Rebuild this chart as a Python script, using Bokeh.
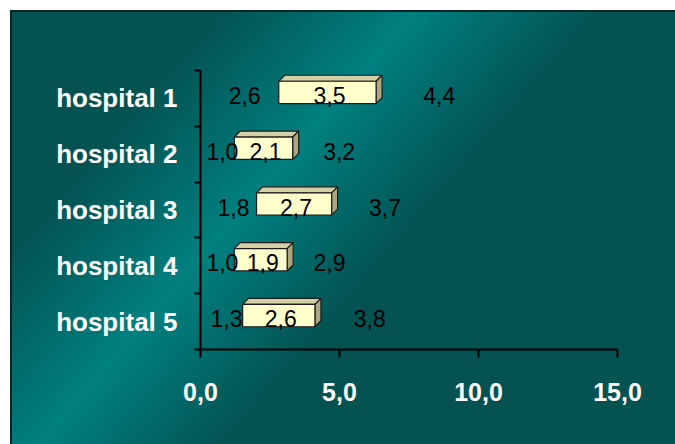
from bokeh.plotting import figure
from bokeh.models import Range1d, FixedTicker, ColumnDataSource
from bokeh.embed import file_html
from bokeh.resources import INLINE
from bokeh.core.properties import value

# Data: each hospital has a lower part, a visible middle span and an upper part (stacked)
hospitals = ["hospital 1", "hospital 2", "hospital 3", "hospital 4", "hospital 5"]
low = [2.6, 1.0, 1.8, 1.0, 1.3]
span = [3.5, 2.1, 2.7, 1.9, 2.6]
upper = [4.4, 3.2, 3.7, 2.9, 3.8]

x_ticks = [0, 5, 10, 15]
x_tick_labels = ["0,0", "5,0", "10,0", "15,0"]

X_MAX = 15.0
N = len(hospitals)
W, H = 675, 444
BORDER_L, BORDER_R, BORDER_T, BORDER_B = 200, 58, 70, 95
FRAME_W = W - BORDER_L - BORDER_R
FRAME_H = H - BORDER_T - BORDER_B

# category centres, first hospital on top
pos = [N - i - 0.5 for i in range(N)]


def fmt(v):
    return f"{v:.1f}".replace(".", ",")


p = figure(
    width=W, height=H,
    x_range=Range1d(0, X_MAX), y_range=Range1d(0, N),
    output_backend="svg", toolbar_location=None,
    min_border_left=BORDER_L, min_border_right=BORDER_R,
    min_border_top=BORDER_T, min_border_bottom=BORDER_B,
)
p.background_fill_color = None
p.border_fill_color = None
p.outline_line_color = None
p.grid.visible = False

dark = "#045252"
light = "#008080"
edge = "#072424"
p.styles = {
    "background": (
        f"linear-gradient({edge},{edge}) 10px 10px / 665px 2px no-repeat, "
        f"linear-gradient({edge},{edge}) 10px 10px / 2px 434px no-repeat, "
        f"linear-gradient(131deg, {dark} 0%, {dark} 20%, {light} 39%, {dark} 57%, {dark} 100%) "
        "10px 10px / 665px 434px no-repeat, #ffffff"
    )
}

# 3D depth of the bars, in data units (6 px right, 6 px up)
dx = 6 * X_MAX / FRAME_W
dy = 6 * N / FRAME_H
bar_h = 0.4

left = low
right = [a + b for a, b in zip(low, span)]

top_xs, top_ys, side_xs, side_ys = [], [], [], []
for y, l, r in zip(pos, left, right):
    yt = y + bar_h / 2 + dy
    yb = y - bar_h / 2 + dy
    top_xs.append([l + dx, r + dx, r + 2 * dx, l + 2 * dx])
    top_ys.append([yt, yt, yt + dy, yt + dy])
    side_xs.append([r + dx, r + dx, r + 2 * dx, r + 2 * dx])
    side_ys.append([yb, yt, yt + dy, yb + dy])

outline = "#1c1c1c"
p.patches(top_xs, top_ys, fill_color="#d3cfa6", line_color=outline, line_width=1.2)
p.patches(side_xs, side_ys, fill_color="#aaa582", line_color=outline, line_width=1.2)
p.hbar(y=[v + dy for v in pos], left=[l + dx for l in left], right=[r + dx for r in right],
       height=bar_h, fill_color="#ffffcc", line_color=outline, line_width=1.2)

# value labels at the centre of each stacked segment
lx, ly, lt = [], [], []
for y, a, b, c in zip(pos, low, span, upper):
    lx += [a / 2, a + b / 2, a + b + c / 2]
    ly += [y, y, y]
    lt += [fmt(a), fmt(b), fmt(c)]
src = ColumnDataSource(dict(x=lx, y=ly, text=lt))
p.text(x="x", y="y", text="text", source=src, x_offset=8, y_offset=-3,
       text_font=value("Liberation Sans"), text_font_size="23px", text_color="black",
       text_align="center", text_baseline="middle")

# x axis
xa = p.xaxis[0]
xa.ticker = FixedTicker(ticks=x_ticks, minor_ticks=[])
xa.major_label_overrides = {t: s for t, s in zip(x_ticks, x_tick_labels)}
xa.axis_line_color = "black"
xa.axis_line_width = 2
xa.major_tick_line_color = "black"
xa.major_tick_line_width = 2
xa.major_tick_in = 0
xa.major_tick_out = 8
xa.minor_tick_line_color = None
xa.major_label_standoff = 25
xa.major_label_text_font = "Liberation Sans"
xa.major_label_text_font_style = "bold"
xa.major_label_text_font_size = "25px"
xa.major_label_text_color = "white"

# y axis: names at the centres, tick marks on the category boundaries
ya = p.yaxis[0]
ya.ticker = FixedTicker(ticks=pos, minor_ticks=list(range(N + 1)))
ya.major_label_overrides = {y: name for y, name in zip(pos, hospitals)}
ya.axis_line_color = "black"
ya.axis_line_width = 2
ya.major_tick_line_color = None
ya.major_tick_in = 0
ya.major_tick_out = 0
ya.minor_tick_line_color = "black"
ya.minor_tick_line_width = 2
ya.minor_tick_in = 0
ya.minor_tick_out = 6
ya.major_label_standoff = 17
ya.major_label_text_font = "Liberation Sans"
ya.major_label_text_font_style = "bold"
ya.major_label_text_font_size = "26px"
ya.major_label_text_color = "white"

open("out.html", "w").write(file_html(p, INLINE))
